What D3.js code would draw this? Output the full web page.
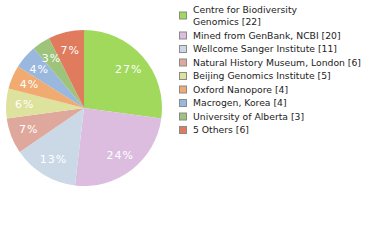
<!DOCTYPE html>
<html lang="en">
<head>
<meta charset="utf-8">
<script src="https://cdn.jsdelivr.net/npm/d3@7"></script>
<style>
  body { margin: 0; background: #fff; }
  svg { display: block; }
  .slice-label { font-family: "DejaVu Sans", sans-serif; font-size: 11px; fill: #fff; letter-spacing: 1px; }
  .legend text { font-family: "DejaVu Sans", sans-serif; fill: #222; }
</style>
</head>
<body>
<script>
var w = 380, h = 240;
var cx = 84, cy = 108, radius = 78;

var labels = ["Centre for Biodiversity Genomics", "Mined from GenBank, NCBI", "Wellcome Sanger Institute",
  "Natural History Museum, London", "Beijing Genomics Institute", "Oxford Nanopore",
  "Macrogen, Korea", "University of Alberta", "5 Others"];
var counts = [22, 20, 11, 6, 5, 4, 4, 3, 6];
var colors = ["#a0d95c", "#dcbde0", "#cbd9e6", "#dfa89c", "#dde29c", "#f1aa6f", "#9ab7de", "#9dc47a", "#e07b5e"];

var total = d3.sum(counts);
var data = counts.map(function(c, i) { return { name: labels[i], value: c, color: colors[i] }; });

var svg = d3.select("body").append("svg").attr("width", w).attr("height", h);

var pie = d3.pie().sort(null).value(function(d) { return d.value; });
var arc = d3.arc().innerRadius(0).outerRadius(radius);
var labelArc = d3.arc().innerRadius(radius * 0.76).outerRadius(radius * 0.76);

var g = svg.append("g").attr("transform", "translate(" + cx + "," + cy + ")");

g.selectAll("path")
  .data(pie(data))
  .enter().append("path")
  .attr("d", arc)
  .attr("fill", function(d) { return d.data.color; });

g.selectAll("text")
  .data(pie(data))
  .enter().append("text")
  .attr("class", "slice-label")
  .attr("transform", function(d) { return "translate(" + labelArc.centroid(d) + ")"; })
  .attr("text-anchor", "middle")
  .attr("dy", "0.35em")
  .text(function(d) { return Math.floor(d.data.value / total * 100) + "%"; });

// legend
var legend = svg.append("g").attr("class", "legend");

// size the legend font so the longest entry spans ~168px like the reference
var probe = legend.append("text").attr("font-size", 11).text("Natural History Museum, London [6]");
var fs = Math.min(11, 11 * 168 / probe.node().getComputedTextLength());
probe.remove();
legend.attr("font-size", fs);

var wrapped = {0: ["Centre for Biodiversity", "Genomics [22]"]};
var ys = [15.5, 35.5, 49, 62.5, 76, 89.5, 103, 116.5, 130];

data.forEach(function(d, i) {
  var row = legend.append("g").attr("transform", "translate(0," + ys[i] + ")");
  row.append("rect")
    .attr("x", 179.5).attr("y", -3.5)
    .attr("width", 7).attr("height", 7)
    .attr("fill", d.color)
    .attr("stroke", "#8a8a8a").attr("stroke-width", 1);
  var lines = wrapped[i] || [d.name + " [" + d.value + "]"];
  var t = row.append("text").attr("x", 193);
  lines.forEach(function(l, j) {
    t.append("tspan")
      .attr("x", 193)
      .attr("y", (j - (lines.length - 1) / 2) * 12.5)
      .attr("dy", "0.35em")
      .text(l);
  });
});
</script>
</body>
</html>
